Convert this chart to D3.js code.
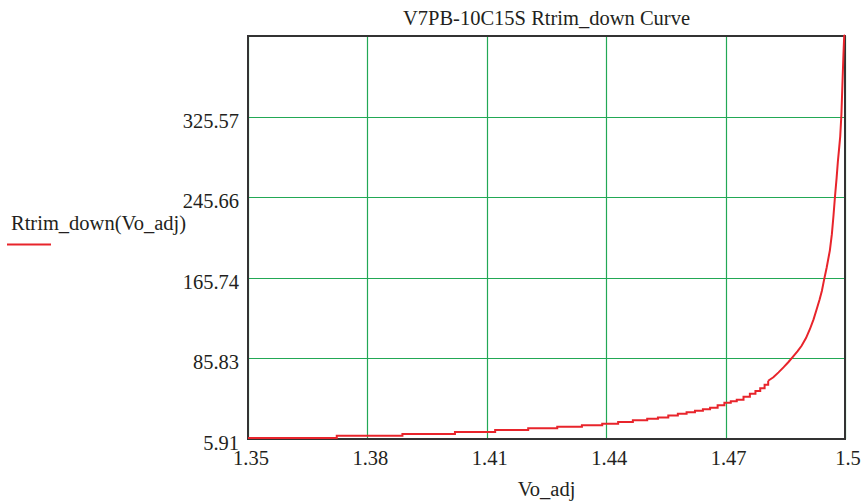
<!DOCTYPE html>
<html>
<head>
<meta charset="utf-8">
<script src="https://cdn.jsdelivr.net/npm/d3@7/dist/d3.min.js"></script>
<style>
  html, body { margin: 0; padding: 0; background: #fff; }
  svg text { font-family: "Liberation Serif", "Times New Roman", serif; fill: #231f20; font-size: 20.5px; }
</style>
</head>
<body>
<div id="chart"></div>
<script>
// values
const voAdj = [1.35, 1.3723, 1.3888, 1.4020, 1.4121, 1.4204, 1.4277, 1.4339, 1.4390, 1.4430,
  1.4467, 1.4503, 1.4530, 1.4556, 1.4580, 1.4602, 1.4623, 1.4643, 1.4661, 1.4680, 1.4697,
  1.4713, 1.4728, 1.4745, 1.4761, 1.4775, 1.4787, 1.4798, 1.4807, 1.4820, 1.4833, 1.4846,
  1.4858, 1.4870, 1.4881, 1.4891, 1.4902, 1.4912, 1.4921, 1.4929, 1.4936, 1.4942, 1.4947,
  1.4954, 1.4962, 1.4967, 1.4971, 1.4975, 1.4979, 1.4982, 1.4985, 1.4988, 1.4991, 1.4994,
  1.4996, 1.4998, 1.5];
const rtrimDown = [5.91, 8.19, 9.88, 11.86, 13.84, 15.53, 17.11, 18.5, 20.09, 21.77,
  23.6, 24.9, 26.3, 28.1, 30.0, 31.5, 33.0, 34.5, 36.0, 38.4, 40.8,
  42.4, 43.9, 46.8, 49.8, 52.6, 55.2, 58.6, 62.7, 66.1, 71.0, 76.2,
  81.3, 86.9, 92.0, 97.4, 105.0, 114.0, 123.5, 133.8, 143.0, 152.0, 162.0,
  175.0, 192.0, 208.0, 226.0, 246.1, 264.0, 279.6, 292.0, 305.0, 326.9, 361.9,
  385.0, 404.8, 405.49];

const xTicks = [1.35, 1.38, 1.41, 1.44, 1.47, 1.5];
const xTickLabels = ['1.35', '1.38', '1.41', '1.44', '1.47', '1.5'];
const yTicks = [5.91, 85.83, 165.74, 245.66, 325.57, 405.49];
const yTickLabels = ['5.91', '85.83', '165.74', '245.66', '325.57', ''];

const width = 862, height = 504;
const plot = { left: 248, right: 845, top: 36, bottom: 439 };
const red = '#e8242b';

const svg = d3.select('#chart').append('svg')
  .attr('width', width)
  .attr('height', height);

const x = d3.scaleLinear().domain([1.35, 1.5]).range([plot.left, plot.right]);
const y = d3.scaleLinear().domain([5.91, 405.49]).range([plot.bottom, plot.top]);

// grid lines
const gridColor = '#22a855';
svg.append('g')
  .selectAll('line')
  .data(xTicks)
  .join('line')
  .attr('x1', d => Math.round(x(d)) + 0.5)
  .attr('x2', d => Math.round(x(d)) + 0.5)
  .attr('y1', plot.top)
  .attr('y2', plot.bottom)
  .attr('stroke', gridColor)
  .attr('stroke-width', 1.2);

svg.append('g')
  .selectAll('line')
  .data(yTicks)
  .join('line')
  .attr('x1', plot.left)
  .attr('x2', plot.right)
  .attr('y1', d => Math.round(y(d)) + 0.5)
  .attr('y2', d => Math.round(y(d)) + 0.5)
  .attr('stroke', gridColor)
  .attr('stroke-width', 1.2);

// frame
svg.append('rect')
  .attr('x', plot.left)
  .attr('y', plot.top)
  .attr('width', plot.right - plot.left)
  .attr('height', plot.bottom - plot.top)
  .attr('fill', 'none')
  .attr('stroke', '#333')
  .attr('stroke-width', 2);

// the curve: stepped where it is flat, plain line where it climbs
const pts = voAdj.map((v, i) => [v, rtrimDown[i]]);
const split = 28;

const stepLine = d3.line()
  .x(d => x(d[0]))
  .y(d => y(d[1]) - 1)
  .curve(d3.curveStepAfter);

const steepLine = d3.line()
  .x(d => x(d[0]))
  .y(d => y(d[1]) - 1);

svg.append('path')
  .datum(pts.slice(0, split + 1))
  .attr('d', stepLine)
  .attr('fill', 'none')
  .attr('stroke', red)
  .attr('stroke-width', 2);

svg.append('path')
  .datum(pts.slice(split))
  .attr('d', steepLine)
  .attr('fill', 'none')
  .attr('stroke', red)
  .attr('stroke-width', 2);

// tick labels
svg.append('g')
  .selectAll('text')
  .data(xTicks)
  .join('text')
  .attr('x', d => x(d) + 3)
  .attr('y', plot.bottom + 26)
  .attr('text-anchor', 'middle')
  .text((d, i) => xTickLabels[i]);

svg.append('g')
  .selectAll('text')
  .data(yTicks)
  .join('text')
  .attr('x', plot.left - 9)
  .attr('y', d => y(d) + 11)
  .attr('text-anchor', 'end')
  .text((d, i) => yTickLabels[i]);

// titles
svg.append('text')
  .attr('x', (plot.left + plot.right) / 2)
  .attr('y', 25)
  .attr('text-anchor', 'middle')
  .text('V7PB-10C15S Rtrim_down Curve');

svg.append('text')
  .attr('x', (plot.left + plot.right) / 2)
  .attr('y', 496)
  .attr('text-anchor', 'middle')
  .text('Vo_adj');

// legend
svg.append('text')
  .attr('x', 11)
  .attr('y', 230)
  .text('Rtrim_down(Vo_adj)');

svg.append('line')
  .attr('x1', 7)
  .attr('x2', 51)
  .attr('y1', 244.5)
  .attr('y2', 244.5)
  .attr('stroke', red)
  .attr('stroke-width', 2);
</script>
</body>
</html>
